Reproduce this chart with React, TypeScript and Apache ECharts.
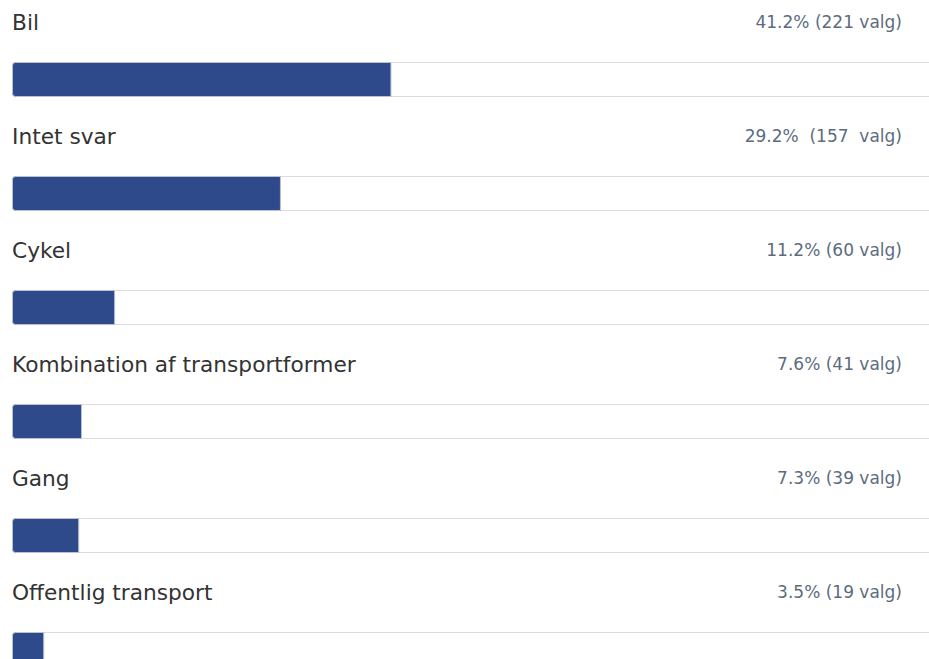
import React, { useEffect, useRef } from "react";
import * as echarts from "echarts";

const categories = [
  "Bil",
  "Intet svar",
  "Cykel",
  "Kombination af transportformer",
  "Gang",
  "Offentlig transport",
];
const percents = [41.2, 29.2, 11.2, 7.6, 7.3, 3.5];
const valueLabels = [
  "41.2% (221 valg)",
  "29.2%  (157  valg)",
  "11.2% (60 valg)",
  "7.6% (41 valg)",
  "7.3% (39 valg)",
  "3.5% (19 valg)",
];
const trackMax = 100;

export default function App() {
  const ref = useRef<HTMLDivElement>(null);
  useEffect(() => {
    if (!ref.current) return;
    const chart = echarts.init(ref.current, null, { renderer: "svg" });
    const font = "DejaVu Sans";
    chart.setOption({
      animation: false,
      grid: { left: 12, width: 921, top: 22.5, height: 684, containLabel: false },
      xAxis: {
        type: "value",
        min: 0,
        max: trackMax,
        show: false,
      },
      yAxis: {
        type: "category",
        data: categories,
        inverse: true,
        show: false,
      },
      series: [
        {
          type: "bar",
          name: "track",
          silent: true,
          barWidth: 35,
          barGap: "-100%",
          data: categories.map(() => trackMax),
          itemStyle: {
            color: "#ffffff",
            borderColor: "#dcdcdc",
            borderWidth: 1,
            borderRadius: [3, 0, 0, 3],
          },
          label: {
            show: true,
            position: ["100%", -40],
            offset: [-31, 0],
            align: "right",
            verticalAlign: "middle",
            fontFamily: font,
            fontSize: 17,
            color: "#5d6c7d",
            formatter: (p: any) => valueLabels[p.dataIndex],
          },
        },
        {
          type: "bar",
          name: "Andel",
          silent: true,
          barWidth: 35,
          barGap: "-100%",
          data: percents,
          itemStyle: {
            color: "#2e4a8b",
            borderColor: "#b9c1d3",
            borderWidth: 1,
            borderRadius: [3, 0, 0, 3],
          },
          label: {
            show: true,
            position: [0, -40],
            align: "left",
            verticalAlign: "middle",
            fontFamily: font,
            fontSize: 21.7,
            color: "#333333",
            formatter: (p: any) => categories[p.dataIndex],
          },
        },
      ],
    });
    return () => chart.dispose();
  }, []);
  return (
    <div
      style={{ position: "fixed", left: 0, top: 0, width: 929, height: 659, overflow: "hidden", background: "#fff" }}
    >
      <div ref={ref} style={{ width: 945, height: 720 }} />
    </div>
  );
}
